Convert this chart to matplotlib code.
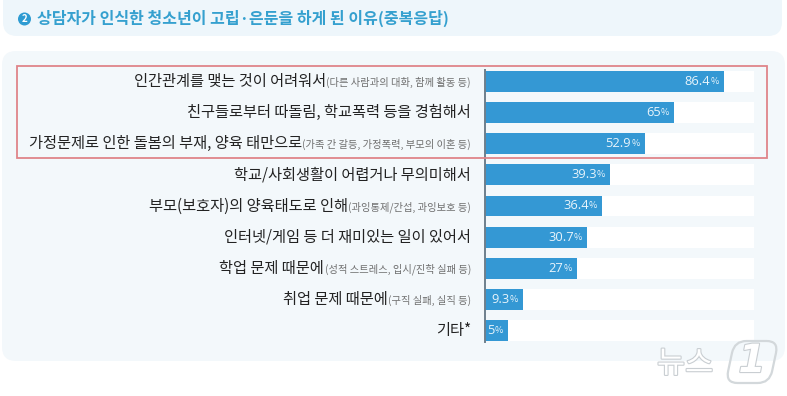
import numpy as np
import matplotlib
matplotlib.use('Agg')
import matplotlib.pyplot as plt
import matplotlib.patheffects as pe
from matplotlib.patches import FancyBboxPatch, Rectangle, Circle
from matplotlib.transforms import Affine2D

plt.rcParams['font.family'] = ['Noto Sans CJK KR', 'DejaVu Sans']

title = '상담자가 인식한 청소년이 고립·은둔을 하게 된 이유(중복응답)'
reasons = ['인간관계를 맺는 것이 어려워서', '친구들로부터 따돌림, 학교폭력 등을 경험해서',
           '가정문제로 인한 돌봄의 부재, 양육 태만으로', '학교/사회생활이 어렵거나 무의미해서',
           '부모(보호자)의 양육태도로 인해', '인터넷/게임 등 더 재미있는 일이 있어서',
           '학업 문제 때문에', '취업 문제 때문에', '기타*']
notes = ['(다른 사람과의 대화, 함께 활동 등)', '', '(가족 간 갈등, 가정폭력, 부모의 이혼 등)', '',
         '(과잉통제/간섭, 과잉보호 등)', '', '(성적 스트레스, 입시/진학 실패 등)',
         '(구직 실패, 실직 등)', '']
values = [86.4, 65, 52.9, 39.3, 36.4, 30.7, 27, 9.3, 5]
value_labels = ['86.4', '65', '52.9', '39.3', '36.4', '30.7', '27', '9.3', '5']

W, H = 787, 396
fig = plt.figure(figsize=(W / 100, H / 100), dpi=100)

# background layer in pixel coordinates
bg = fig.add_axes([0, 0, 1, 1])
bg.set_xlim(0, W)
bg.set_ylim(H, 0)
bg.axis('off')
bg.add_patch(FancyBboxPatch((3, -14), 779, 50, boxstyle='round,pad=0,rounding_size=14',
                            fc='#eef6fb', ec='none'))
bg.add_patch(FancyBboxPatch((2, 51), 783, 310, boxstyle='round,pad=0,rounding_size=14',
                            fc='#f3f8fb', ec='none'))
bg.add_patch(Circle((24.5, 19), 6.5, fc='#2e9bd2', ec='none'))
bg.text(24.5, 19, '2', color='white', fontsize=7, fontweight='bold', ha='center', va='center')
bg.text(37, 18.5, title, color='#35a0cf', fontsize=11.5, fontweight='bold', va='center', ha='left')


def power_fwd(v):
    return np.power(np.clip(v, 0, None), 0.82)


def power_inv(v):
    return np.power(np.clip(v, 0, None), 1 / 0.82)


# bars, the original graphic does not draw them on a linear scale
x0, x1, y0, y1 = 485, 754, 66, 346
ax = fig.add_axes([x0 / W, 1 - y1 / H, (x1 - x0) / W, (y1 - y0) / H])
ax.patch.set_alpha(0)
ax.set_xscale('function', functions=(power_fwd, power_inv))
ypos = np.arange(len(values))
ax.barh(ypos, [100] * len(values), height=0.67, color='white')
ax.barh(ypos, values, height=0.67, color='#3498d4')
ax.set_xlim(0, 100)
ax.set_ylim(len(values) - 0.5, -0.5)
ax.set_xticks([])
ax.set_yticks([])
ax.minorticks_off()
for s in ['top', 'right', 'bottom']:
    ax.spines[s].set_visible(False)
ax.spines['left'].set_color('#6e7f8c')
ax.spines['left'].set_linewidth(1.4)
ax.spines['left'].set_bounds(-0.38, 8.38)
bg.set_zorder(0)
ax.set_zorder(1)

# top layer for watermark, box and bar labels
top = fig.add_axes([0, 0, 1, 1])
top.set_xlim(0, W)
top.set_ylim(H, 0)
top.axis('off')
top.set_zorder(2)

fig.canvas.draw()
r = fig.canvas.get_renderer()

# category labels, big text then small grey note, right aligned
for i, y in enumerate(ypos):
    py = y0 + (y + 0.5) * (y1 - y0) / len(values)
    right = 471
    if notes[i]:
        t = bg.text(right, py + 1, notes[i], fontsize=7.4, color='#6f6f6f', ha='right', va='center')
        right -= t.get_window_extent(r).width + 0.5
    bg.text(right, py, reasons[i], fontsize=11, color='#222222', ha='right', va='center')

    # value label inside the bar
    end = ax.transData.transform((values[i], y))
    tx, ty = top.transData.inverted().transform(end)
    t = top.text(tx - 5, ty, '%', fontsize=6.5, color='#e8f4fb', ha='right', va='center')
    top.text(tx - 5 - t.get_window_extent(r).width, ty, value_labels[i], fontsize=9.3,
             color='#e8f4fb', ha='right', va='center', family=['Open Sans', 'DejaVu Sans'])

# highlight box over the first three rows
top.add_patch(Rectangle((17, 66), 750, 92, fc='none', ec='#e0848a', lw=1.3))

# watermark
outline = [pe.withStroke(linewidth=1.6, foreground='#c9ced2')]
top.text(657, 364, '뉴스', fontsize=22, color='white', va='center', ha='left', path_effects=outline)
skew = Affine2D().skew_deg(-12, 0).translate(829, 0)
pill = FancyBboxPatch((-22, 341), 44, 42, boxstyle='round,pad=0,rounding_size=12', fc='none',
                      ec='#d3d8db', lw=1.6, transform=skew + top.transData)
top.add_patch(pill)
top.text(752, 361, '1', fontsize=28, color='white', style='italic', va='center', ha='center',
         family=['DejaVu Sans'], fontweight='bold', path_effects=outline)

fig.savefig('out.png', dpi=100)
